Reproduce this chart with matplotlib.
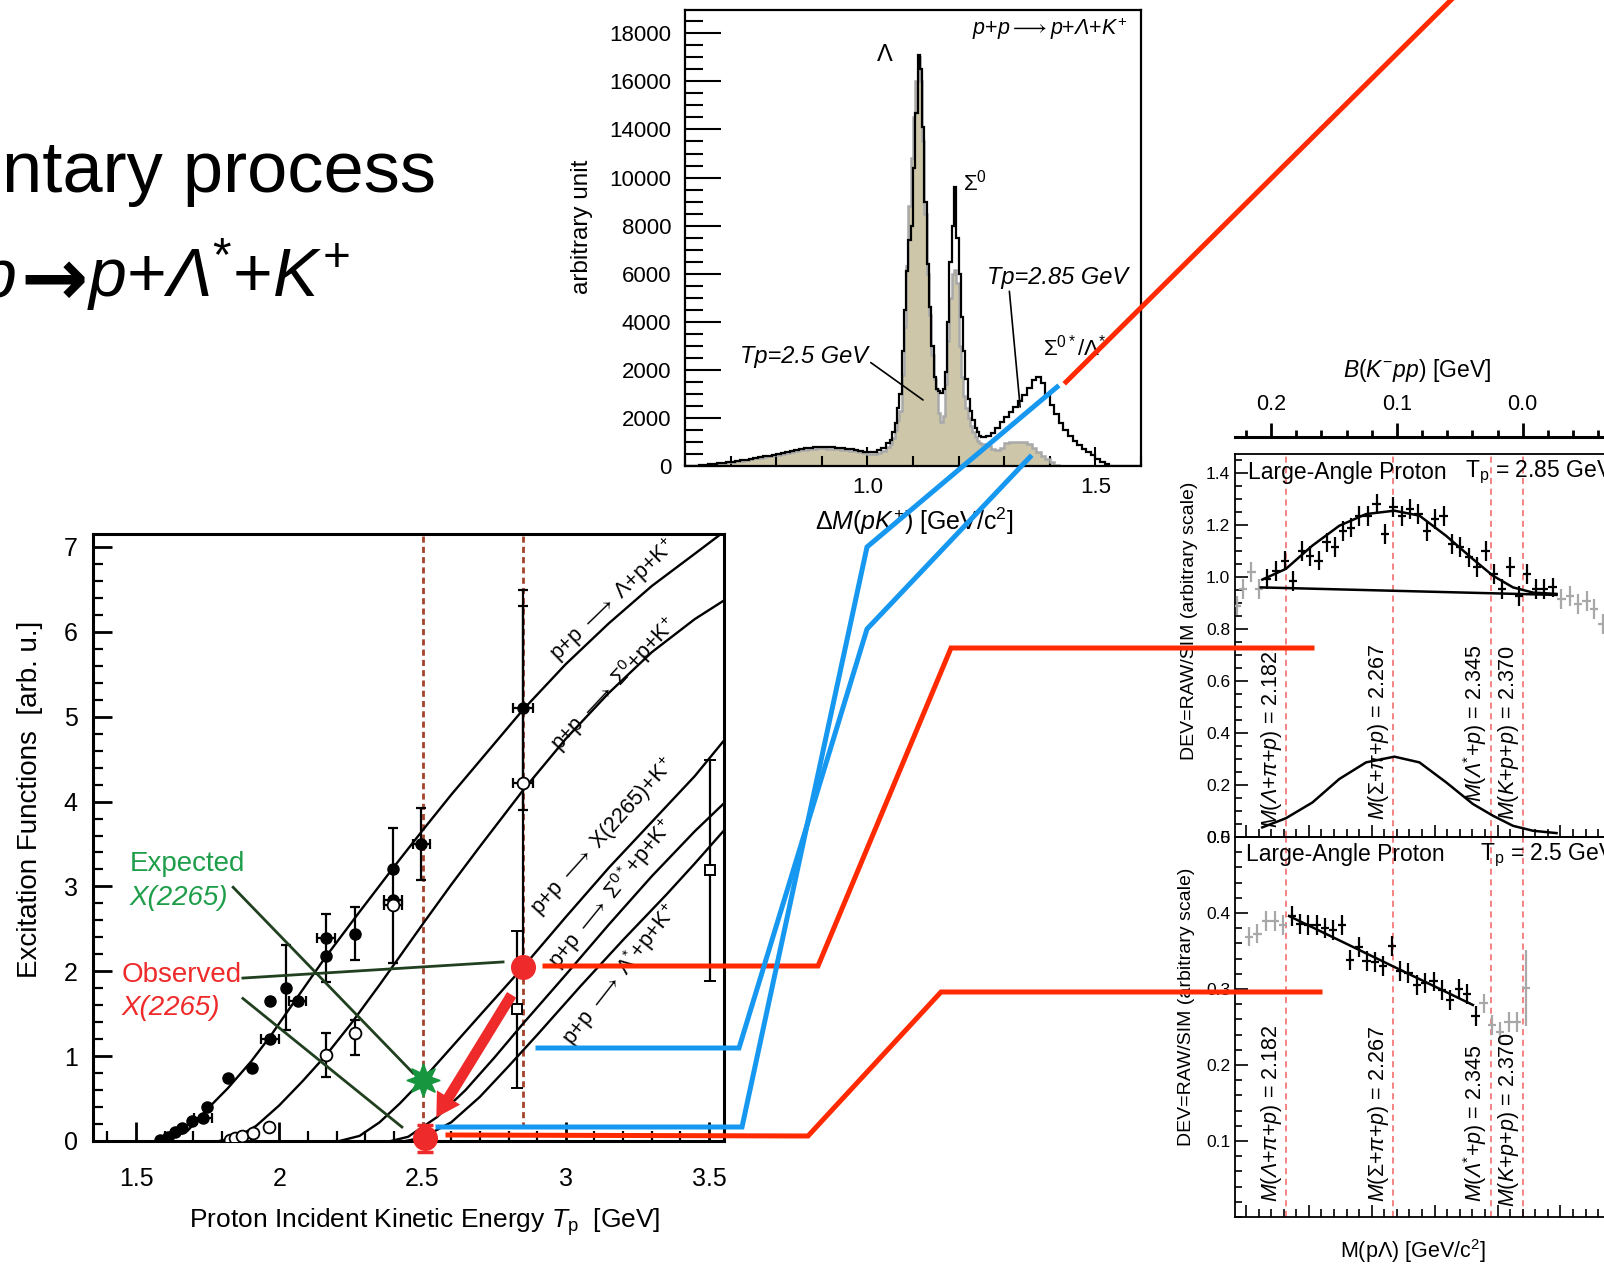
import numpy as np
import matplotlib.pyplot as plt
from matplotlib.ticker import MultipleLocator

plt.rcParams['font.family'] = ['Liberation Sans', 'DejaVu Sans']
plt.rcParams['mathtext.fontset'] = 'custom'
plt.rcParams['mathtext.rm'] = 'Liberation Sans'
plt.rcParams['mathtext.it'] = 'Liberation Sans:italic'
plt.rcParams['mathtext.sf'] = 'Liberation Sans:italic'   # used for slanted greek
plt.rcParams['mathtext.bf'] = 'Liberation Sans:bold'
plt.rcParams['mathtext.fallback'] = 'stixsans'

W, H = 1604, 1264   # picture size in pixels


def rect(x0, y0, x1, y1):
    # pixel box (origin top-left) -> figure fraction [l, b, w, h]
    return [x0 / W, 1 - y1 / H, (x1 - x0) / W, (y1 - y0) / H]


RED = '#ee2a2a'
LRED = '#ff2a00'
BLUE = '#1798f0'
GREEN = '#1f9e4a'
DKGREEN = '#21401f'
BROWN = '#a4432c'
TAN = '#cdc6a8'

# ---------------- excitation functions (left) ----------------
c_lam_T = [1.573, 1.62, 1.68, 1.75, 1.82, 1.90, 1.97, 2.05, 2.16, 2.28, 2.40, 2.50,
           2.60, 2.70, 2.85, 3.00, 3.15, 3.30, 3.45, 3.552]
c_lam_S = [0.0, 0.03, 0.12, 0.38, 0.62, 0.93, 1.24, 1.63, 2.16, 2.70, 3.23, 3.66,
           4.08, 4.48, 5.08, 5.62, 6.10, 6.54, 6.92, 7.18]
c_sig_T = [1.79, 1.85, 1.92, 2.00, 2.08, 2.163, 2.25, 2.35, 2.51, 2.60, 2.70, 2.85,
           3.00, 3.15, 3.30, 3.45, 3.552]
c_sig_S = [0.0, 0.04, 0.18, 0.42, 0.70, 1.01, 1.38, 1.84, 2.60, 3.02, 3.47, 4.13,
           4.74, 5.28, 5.76, 6.15, 6.37]
c_x_T = [2.21, 2.28, 2.35, 2.42, 2.50, 2.60, 2.70, 2.851, 3.00, 3.15, 3.30, 3.45, 3.552]
c_x_S = [0.0, 0.06, 0.22, 0.44, 0.72, 1.10, 1.48, 2.05, 2.64, 3.22, 3.76, 4.30, 4.72]
c_s0s_T = [2.39, 2.45, 2.55, 2.65, 2.75, 2.85, 3.00, 3.15, 3.30, 3.45, 3.552]
c_s0s_S = [0.0, 0.05, 0.28, 0.60, 0.98, 1.38, 1.96, 2.55, 3.12, 3.65, 3.98]
c_lms_T = [2.44, 2.50, 2.60, 2.70, 2.80, 2.90, 3.05, 3.20, 3.35, 3.45, 3.552]
c_lms_S = [0.0, 0.04, 0.22, 0.52, 0.88, 1.25, 1.82, 2.37, 2.90, 3.27, 3.66]

curve_labels = [r'p+p $\longrightarrow$ $\Lambda$+p+K$^{+}$',
                r'p+p $\longrightarrow$ $\Sigma^{0}$+p+K$^{+}$',
                r'p+p $\longrightarrow$ X(2265)+K$^{+}$',
                r'p+p $\longrightarrow$ $\Sigma^{0*}$+p+K$^{+}$',
                r'p+p $\longrightarrow$ $\Lambda^{*}$+p+K$^{+}$']
label_T = [3.165, 3.168, 3.130, 3.160, 3.189]
label_S = [6.37, 5.39, 3.59, 2.92, 1.96]
label_rot = [44, 47, 48, 51, 52]

# p+p -> Lambda p K+ data (filled circles)
lam_T = [1.584, 1.610, 1.636, 1.660, 1.695, 1.734, 1.748, 1.820, 1.905, 1.968,
         1.968, 2.024, 2.065, 2.163, 2.163, 2.264, 2.397, 2.397, 2.495, 2.851]
lam_S = [0.01, 0.05, 0.11, 0.15, 0.23, 0.27, 0.40, 0.74, 0.86, 1.20,
         1.65, 1.80, 1.65, 2.18, 2.39, 2.44, 3.20, 2.84, 3.50, 5.10]
lam_xe = [0, 0, 0, 0, 0, 0.03, 0, 0, 0, 0.03, 0, 0, 0.03, 0, 0.03, 0, 0, 0.03, 0.03, 0.035]
lam_lo = [0, 0, 0, 0, 0, 0, 0, 0, 0, 0, 0, 0.49, 0, 0, 0.52, 0.31, 0, 0.74, 0.43, 1.20]
lam_hi = [0, 0, 0, 0, 0, 0, 0, 0, 0, 0, 0, 0.51, 0, 0, 0.28, 0.32, 0, 0.85, 0.43, 1.20]

# p+p -> Sigma0 p K+ data (open circles)
sig_T = [1.828, 1.845, 1.870, 1.908, 1.964, 2.163, 2.264, 2.397, 2.851]
sig_S = [0.01, 0.03, 0.06, 0.09, 0.17, 1.01, 1.27, 2.78, 4.22]
sig_xe = [0, 0, 0, 0, 0, 0, 0, 0.03, 0.035]
sig_lo = [0, 0, 0, 0, 0, 0.26, 0.26, 0, 2.27]
sig_hi = [0, 0, 0, 0, 0, 0.26, 0.16, 0, 2.27]

# open squares
sq_T = [2.83, 3.503]
sq_S = [1.55, 3.19]
sq_err = [0.93, 1.30]

obs_T, obs_S = [2.851, 2.51], [2.05, 0.03]
obs_err = [0.0, 0.16]
exp_T, exp_S = [2.50], [0.72]
beam_T = [2.50, 2.85]

# ---------------- Delta M(pK+) spectra (top) ----------------
bins_lo = np.linspace(0.60, 1.05, 46)[:-1]
bins_mid = np.linspace(1.05, 1.25, 41)[:-1]
bins_hi = np.linspace(1.25, 1.60, 36)
hist_edges = np.concatenate([bins_lo, bins_mid, bins_hi])

tp285 = [0, 0, 20, 40, 60, 80, 100, 120, 140, 160,
         180, 210, 240, 270, 300, 330, 360, 400, 430, 470,
         510, 560, 600, 640, 680, 710, 740, 760, 780, 790,
         790, 780, 770, 760, 740, 720, 690, 660, 630, 600,
         590, 600, 650, 760, 950,
         1100, 1400, 1800, 2400, 3000, 4800, 6500, 8100, 9400, 10000,
         12400, 14700, 17100, 16500, 14100, 11000, 8400, 6600, 5000, 3700,
         3200, 3100, 3040, 3200, 3900, 6000, 8500, 10000, 11600, 9500,
         8000, 6200, 4800, 3600, 2800, 2300, 1900, 1600, 1400, 1250,
         1200, 1250, 1370, 1600, 1850, 2050, 2250, 2450, 2700, 2950,
         3250, 3580, 3700, 3450, 3000, 2550, 2150, 1800, 1500, 1250,
         1050, 880, 720, 600, 450, 300, 170, 70, 20, 0,
         0, 0, 0, 0, 0]
tp250 = [0, 0, 15, 35, 55, 75, 95, 115, 130, 150,
         170, 195, 225, 255, 285, 315, 345, 375, 405, 440,
         475, 510, 550, 590, 625, 655, 685, 705, 720, 730,
         730, 725, 715, 700, 685, 665, 640, 610, 580, 550,
         520, 510, 540, 620, 780,
         900, 1150, 1500, 1900, 2300, 3800, 5800, 8300, 10800, 12800,
         14500, 16000, 17000, 16000, 13500, 10500, 8000, 6300, 4600, 3600,
         3200, 2200, 1850, 2100, 3400, 5200, 7000, 8000, 8150, 7600,
         5000, 3700, 2900, 2400, 2000, 1650, 1400, 1200, 1050, 950,
         900, 820, 700, 660, 760, 940, 1000, 1010, 1010, 1000,
         900, 760, 580, 430, 300, 170, 60, 0, 0, 0,
         0, 0, 0, 0, 0, 0, 0, 0, 0, 0,
         0, 0, 0, 0, 0]
hist_yticks = [0, 2000, 4000, 6000, 8000, 10000, 12000, 14000, 16000, 18000]
hist_ylabels = ['0', '2000', '2000', '4000', '6000', '8000', '10000', '14000', '16000', '18000']

# ---------------- DEV = RAW/SIM (right) ----------------
m_thr = [2.182, 2.267, 2.345, 2.370]
m_thr_txt = [r'$M(\mathsf{\Lambda}$+$\pi$+$p)$ = 2.182', r'$M(\Sigma$+$\pi$+$p)$ = 2.267',
             r'$M(\mathsf{\Lambda}^{*}$+$p)$ = 2.345', r'$M(K$+$p$+$p)$ = 2.370']

d285_M = [2.1666, 2.1737, 2.1809, 2.1875, 2.1945, 2.2008, 2.2077, 2.2141, 2.2210, 2.2274,
          2.2335, 2.2401, 2.2467, 2.2539, 2.2606, 2.2672, 2.2741, 2.2805, 2.2871, 2.2937,
          2.3004, 2.3071, 2.3137, 2.3204, 2.3272, 2.3339, 2.3405, 2.3469, 2.3538, 2.3602,
          2.3671, 2.3734, 2.3804, 2.3867, 2.3937]
d285_V = [0.992, 1.024, 1.063, 0.986, 1.101, 1.082, 1.063, 1.133, 1.114, 1.178,
          1.190, 1.236, 1.236, 1.281, 1.165, 1.268, 1.236, 1.262, 1.242, 1.178,
          1.223, 1.236, 1.127, 1.114, 1.075, 1.037, 1.101, 1.012, 0.954, 1.037,
          0.928, 1.012, 0.954, 0.954, 0.960]
d285g_M = [2.1431, 2.1477, 2.1543, 2.1604, 2.4008, 2.4074, 2.4141, 2.4208, 2.4266, 2.4335]
d285g_V = [0.890, 0.954, 1.018, 0.954, 0.915, 0.928, 0.896, 0.909, 0.877, 0.819]
fit285_M = [2.163, 2.1817, 2.2029, 2.2242, 2.2455, 2.268, 2.2879, 2.3092, 2.3304, 2.3463,
            2.3623, 2.3782, 2.3969]
fit285_V = [0.99, 1.031, 1.121, 1.197, 1.242, 1.255, 1.236, 1.158, 1.069, 1.005,
            0.960, 0.940, 0.935]
bg285_M = [2.1618, 2.3969]
bg285_V = [0.960, 0.931]
sig285_V = [0.037, 0.072, 0.133, 0.223, 0.287, 0.309, 0.287, 0.210, 0.127, 0.082,
            0.043, 0.024, 0.015]

d250_M = [2.1865, 2.1929, 2.1995, 2.2061, 2.2128, 2.2194, 2.2263, 2.2327, 2.2396, 2.2459,
          2.2526, 2.2592, 2.2662, 2.2725, 2.2792, 2.2858, 2.2925, 2.2991, 2.3060, 2.3124,
          2.3192, 2.3256, 2.3325]
d250_V = [0.396, 0.386, 0.384, 0.384, 0.380, 0.378, 0.384, 0.338, 0.355, 0.337,
          0.336, 0.330, 0.357, 0.324, 0.321, 0.305, 0.308, 0.310, 0.299, 0.286,
          0.300, 0.293, 0.264]
d250g_M = [2.1525, 2.1591, 2.1663, 2.1732, 2.1796, 2.3389, 2.3455, 2.3522, 2.3588, 2.3655, 2.3724]
d250g_V = [0.369, 0.373, 0.389, 0.389, 0.384, 0.281, 0.253, 0.243, 0.257, 0.257, 0.301]
d250g_E = [0.013, 0.013, 0.013, 0.013, 0.013, 0.013, 0.013, 0.013, 0.013, 0.013, 0.05]
fit250_M = [2.1843, 2.3304]
fit250_V = [0.396, 0.279]

# connector paths drawn across the panels (pixel coordinates of the slide)
red_paths = [[(1066, 382), (1453, -2)],
             [(545, 966), (818, 966), (951, 648), (1312, 648)],
             [(448, 1135), (808, 1136), (941, 992), (1320, 992)]]
blue_paths = [[(438, 1127), (742, 1127), (867, 547), (1057, 387)],
              [(538, 1048), (739, 1048), (867, 629), (1030, 457)]]

fig = plt.figure(figsize=(W / 100, H / 100), dpi=100)

# ---------- slide title fragments ----------
fig.text(2 / W, 1 - 192 / H, 'ntary process', fontsize=52, ha='left', va='baseline')
fig.text(17 / W, 1 - 297 / H, 'p', fontsize=49, style='italic', ha='right', va='baseline')
fig.text(54 / W, 1 - 283 / H, '\u2192', family='DejaVu Sans', fontweight='bold',
         fontsize=58, ha='center', va='center')
fig.text(87 / W, 1 - 297 / H, r'$p{+}\mathsf{\Lambda}^{*}{+}K^{+}$',
         fontsize=49, ha='left', va='baseline')

# ---------- left: excitation functions ----------
ax = fig.add_axes(rect(93, 534, 724, 1141))
ax.set_xlim(1.35, 3.552)
ax.set_ylim(0, 7.153)
for T, S in [(c_lam_T, c_lam_S), (c_sig_T, c_sig_S), (c_x_T, c_x_S),
             (c_s0s_T, c_s0s_S), (c_lms_T, c_lms_S)]:
    ax.plot(T, S, color='k', lw=1.7, zorder=3)
for t, s, lab, r in zip(label_T, label_S, curve_labels, label_rot):
    ax.text(t, s, lab, rotation=r, rotation_mode='anchor', ha='center', va='center',
            fontsize=15.5)

ymin_frac = 0.15 / 7.153
for t in beam_T:
    ax.axvline(t, ymin=ymin_frac, color=BROWN, lw=2, ls=(0, (2.2, 1.5)), zorder=2)


def errpts(T, S, xe, lo, hi, **kw):
    T, S, xe, lo, hi = map(np.asarray, (T, S, xe, lo, hi))
    m = (xe > 0) | (lo > 0)
    ax.errorbar(T[m], S[m], xerr=xe[m], yerr=[lo[m], hi[m]], fmt='none', ecolor='k',
                elinewidth=1.6, capsize=3.5, capthick=1.6, zorder=4)
    ax.plot(T, S, ls='none', zorder=5, **kw)


errpts(lam_T, lam_S, lam_xe, lam_lo, lam_hi, marker='o', ms=8, color='k')
errpts(sig_T, sig_S, sig_xe, sig_lo, sig_hi, marker='o', ms=8.5, mfc='white',
       mec='k', mew=1.3)
ax.errorbar(sq_T, sq_S, yerr=sq_err, fmt='s', ms=6.5, mfc='white', mec='k', mew=1.4,
            ecolor='k', elinewidth=1.6, capsize=4, capthick=1.6, zorder=4)

ax.errorbar(obs_T, obs_S, yerr=obs_err, fmt='o', ms=17, color=RED, ecolor=RED,
            elinewidth=2, capsize=6, capthick=2.5, zorder=7, clip_on=False)
ax.plot(exp_T, exp_S, ls='none', marker=(8, 1, 0), ms=24, color='#17963f', zorder=7)

# arrow from observed at 2.85 to 2.5 GeV
ax.annotate('', xy=(2.543, 0.25), xytext=(2.816, 1.75),
            arrowprops=dict(arrowstyle='simple,head_length=1.2,head_width=1.4,tail_width=0.55',
                            mutation_scale=14, color=RED, lw=0), zorder=6)

# pointer lines from the text labels
ax.plot([1.839, 2.467], [2.99, 0.80], color=DKGREEN, lw=2, zorder=6)
ax.plot([1.873, 2.781], [1.92, 2.11], color=DKGREEN, lw=2, zorder=6)
ax.plot([1.873, 2.428], [1.68, 0.165], color=DKGREEN, lw=2, zorder=6)
ax.text(1.479, 3.26, 'Expected', color=GREEN, fontsize=20, ha='left', va='center')
ax.text(1.479, 2.86, 'X(2265)', color=GREEN, fontsize=20, style='italic', ha='left',
        va='center')
ax.text(1.451, 1.955, 'Observed', color=RED, fontsize=20, ha='left', va='center')
ax.text(1.451, 1.567, 'X(2265)', color=RED, fontsize=20, style='italic', ha='left',
        va='center')

ax.xaxis.set_major_locator(MultipleLocator(0.5))
ax.xaxis.set_minor_locator(MultipleLocator(0.1))
ax.yaxis.set_major_locator(MultipleLocator(1))
ax.yaxis.set_minor_locator(MultipleLocator(0.2))
ax.set_xticks([1.5, 2, 2.5, 3, 3.5], ['1.5', '2', '2.5', '3', '3.5'])
ax.tick_params(which='both', direction='in', top=False, right=False, width=2,
               labelsize=18)
ax.tick_params(which='major', length=14)
ax.tick_params(which='minor', length=7, width=1.6)
ax.tick_params(axis='x', pad=19)
ax.tick_params(axis='y', pad=11)
for sp in ax.spines.values():
    sp.set_linewidth(2.2)
ax.set_xlabel(r'Proton Incident Kinetic Energy $T_{\rm p}$  [GeV]', fontsize=19)
ax.xaxis.set_label_coords(0.526, -0.108)
ax.set_ylabel('Excitation Functions  [arb. u.]', fontsize=20)
ax.yaxis.set_label_coords(-0.079, 0.562)

# ---------- top: Delta M spectra ----------
hx = fig.add_axes(rect(685, 10, 1141, 466))
hx.stairs(tp250, hist_edges, fill=True, color=TAN, zorder=1)
hx.stairs(tp250, hist_edges, color='#a9a9a9', lw=1.8, zorder=2)
hx.stairs(tp285, hist_edges, color='k', lw=1.6, zorder=3)
hx.set_xlim(0.6, 1.6)
hx.set_ylim(0, 18970)
hx.set_xticks([1.0, 1.5], ['1.0', '1.5'])
hx.xaxis.set_minor_locator(MultipleLocator(0.1))
hx.set_yticks(hist_yticks, hist_ylabels)
hx.yaxis.set_minor_locator(MultipleLocator(500))
hx.tick_params(which='both', direction='in', top=False, right=False, width=1.5,
               labelsize=16)
hx.tick_params(axis='y', which='major', length=26, pad=10)
hx.tick_params(axis='y', which='minor', length=13)
hx.tick_params(axis='x', which='major', length=14, pad=8)
hx.tick_params(axis='x', which='minor', length=7)
for sp in hx.spines.values():
    sp.set_linewidth(1.6)
hx.set_ylabel('arbitrary unit', fontsize=17.5)
hx.yaxis.set_label_coords(-0.201, 0.524)
hx.set_xlabel(r'$\Delta M(pK^{+})$ [GeV/c$^{2}$]', fontsize=18)
hx.xaxis.set_label_coords(0.502, -0.087)
hx.text(1.40, 18180, r'$p$+$p\longrightarrow p$+$\mathsf{\Lambda}$+$K^{+}$', fontsize=15.5,
        ha='center', va='center')
hx.text(1.039, 17098, r'$\Lambda$', fontsize=17, ha='center', va='center')
hx.text(1.236, 11773, r'$\Sigma^{0}$', fontsize=16, ha='center', va='center')
hx.text(1.455, 4909, r'$\Sigma^{0*}/\Lambda^{*}$', fontsize=16, ha='center', va='center')
hx.annotate('Tp=2.5 GeV', xy=(1.122, 2746), xytext=(0.861, 4576), fontsize=17,
            style='italic', ha='center', va='center',
            arrowprops=dict(arrowstyle='-', color='k', lw=1.2, shrinkA=0, shrinkB=0,
                            relpos=(1.0, 0.3)))
hx.annotate('Tp=2.85 GeV', xy=(1.335, 2454), xytext=(1.416, 7862), fontsize=17,
            style='italic', ha='center', va='center',
            arrowprops=dict(arrowstyle='-', color='k', lw=1.2, shrinkA=0, shrinkB=0,
                            relpos=(0.16, 0.0)))

# ---------- right: binding energy axis and DEV panels ----------
PX0, PX1 = 1235, 1650
M_lo, M_hi = 2.1413, 2.4712

bx = fig.add_axes(rect(PX0, 437, PX1, 447))
bx.set_xlim(2.370 - M_lo, 2.370 - M_hi)
bx.set_ylim(0, 1)
for k in ['left', 'right', 'bottom']:
    bx.spines[k].set_visible(False)
bx.spines['top'].set_linewidth(2.2)
bx.patch.set_alpha(0)
bx.set_yticks([])
bx.xaxis.tick_top()
bx.set_xticks([0.2, 0.1, 0.0], ['0.2', '0.1', '0.0'])
bx.xaxis.set_minor_locator(MultipleLocator(0.02))
bx.tick_params(axis='x', which='both', direction='out', width=2, labelsize=15.5, pad=6)
bx.tick_params(axis='x', which='major', length=10)
bx.tick_params(axis='x', which='minor', length=5)
fig.text(1417 / W, 1 - 370 / H, r'$B$($K^{-}pp$) [GeV]', fontsize=16.5, ha='center',
         va='center')

ta = fig.add_axes(rect(PX0, 454, PX1, 837))
ba = fig.add_axes(rect(PX0, 837, PX1, 1217))
for a in (ta, ba):
    a.set_xlim(M_lo, M_hi)
    a.patch.set_alpha(0)
    for mt in m_thr:
        a.axvline(mt, color='#f26262', lw=1.1, ls=(0, (4, 3)), zorder=1)
    a.xaxis.set_major_locator(MultipleLocator(0.05))
    a.xaxis.set_minor_locator(MultipleLocator(0.01))
    a.tick_params(axis='x', which='both', direction='in', top=False, labelbottom=False,
                  width=1.2)
    a.tick_params(axis='x', which='major', length=9)
    a.tick_params(axis='x', which='minor', length=6)
    a.tick_params(axis='y', which='both', direction='in', right=False, width=1.2,
                  labelsize=12.5)
    a.tick_params(axis='y', which='major', length=9)
    a.tick_params(axis='y', which='minor', length=5)
    a.spines['right'].set_visible(False)
    for sp in a.spines.values():
        sp.set_linewidth(1.3)

ta.set_ylim(0, 1.473)
ta.set_yticks([0.0, 0.2, 0.4, 0.6, 0.8, 1.0, 1.2, 1.4],
              ['0.0', '0.2', '0.4', '0.6', '0.8', '1.0', '1.2', '1.4'])
ta.yaxis.set_minor_locator(MultipleLocator(0.05))
ta.errorbar(d285g_M, d285g_V, xerr=0.0033, yerr=0.038, fmt='none', ecolor='#a8a8a8',
            elinewidth=1.6, zorder=3)
ta.errorbar(d285_M, d285_V, xerr=0.0033, yerr=0.038, fmt='none', ecolor='k',
            elinewidth=1.6, zorder=3)
ta.plot(fit285_M, fit285_V, color='k', lw=1.8, zorder=4)
ta.plot(bg285_M, bg285_V, color='k', lw=1.8, zorder=4)
ta.plot(fit285_M, sig285_V, color='k', lw=1.8, zorder=4)

ba.set_ylim(0, 0.5)
ba.set_yticks([0.1, 0.2, 0.3, 0.4, 0.5], ['0.1', '0.2', '0.3', '0.4', '0.5'])
ba.yaxis.set_minor_locator(MultipleLocator(0.02))
ba.errorbar(d250g_M, d250g_V, xerr=0.0033, yerr=d250g_E, fmt='none', ecolor='#a8a8a8',
            elinewidth=1.6, zorder=3)
ba.errorbar(d250_M, d250_V, xerr=0.0033, yerr=0.013, fmt='none', ecolor='k',
            elinewidth=1.6, zorder=3)
ba.plot(fit250_M, fit250_V, color='k', lw=1.8, zorder=4)

# threshold labels along the dashed lines
for a, bottoms in ((ta, [0.035, 0.065, 0.135, 0.065]), (ba, [0.02, 0.02, 0.02, 0.013])):
    for mt, txt, b in zip(m_thr, m_thr_txt, bottoms):
        a.text(mt - 0.0015, b, txt, rotation=90, ha='right', va='bottom', fontsize=15.5,
               zorder=5)

ta.text(0.031, 0.953, 'Large-Angle Proton', transform=ta.transAxes, fontsize=16.5,
        ha='left', va='center')
ta.text(0.554, 0.953, r'T$_{\rm p}$ = 2.85 GeV', transform=ta.transAxes, fontsize=16.5,
        ha='left', va='center')
ba.text(0.026, 0.953, 'Large-Angle Proton', transform=ba.transAxes, fontsize=16.5,
        ha='left', va='center')
ba.text(0.590, 0.953, r'T$_{\rm p}$ = 2.5 GeV', transform=ba.transAxes, fontsize=16.5,
        ha='left', va='center')

ta.set_ylabel('DEV=RAW/SIM (arbitrary scale)', fontsize=14)
ta.yaxis.set_label_coords(-0.089, 0.564)
ba.set_ylabel('DEV=RAW/SIM (arbitrary scale)', fontsize=14)
ba.yaxis.set_label_coords(-0.096, 0.553)
ba.set_xlabel(r'M(p$\Lambda$) [GeV/c$^{2}$]', fontsize=15.5)
ba.xaxis.set_label_coords(0.429, -0.052)

# ---------- connectors on top of everything ----------
ox = fig.add_axes([0, 0, 1, 1], zorder=20)
ox.set_xlim(0, W)
ox.set_ylim(H, 0)
ox.axis('off')
for path in red_paths:
    xs, ys = zip(*path)
    ox.plot(xs, ys, color=LRED, lw=3.6, solid_joinstyle='miter')
for path in blue_paths:
    xs, ys = zip(*path)
    ox.plot(xs, ys, color=BLUE, lw=3.6, solid_joinstyle='miter')

fig.savefig('out.png', dpi=100)
